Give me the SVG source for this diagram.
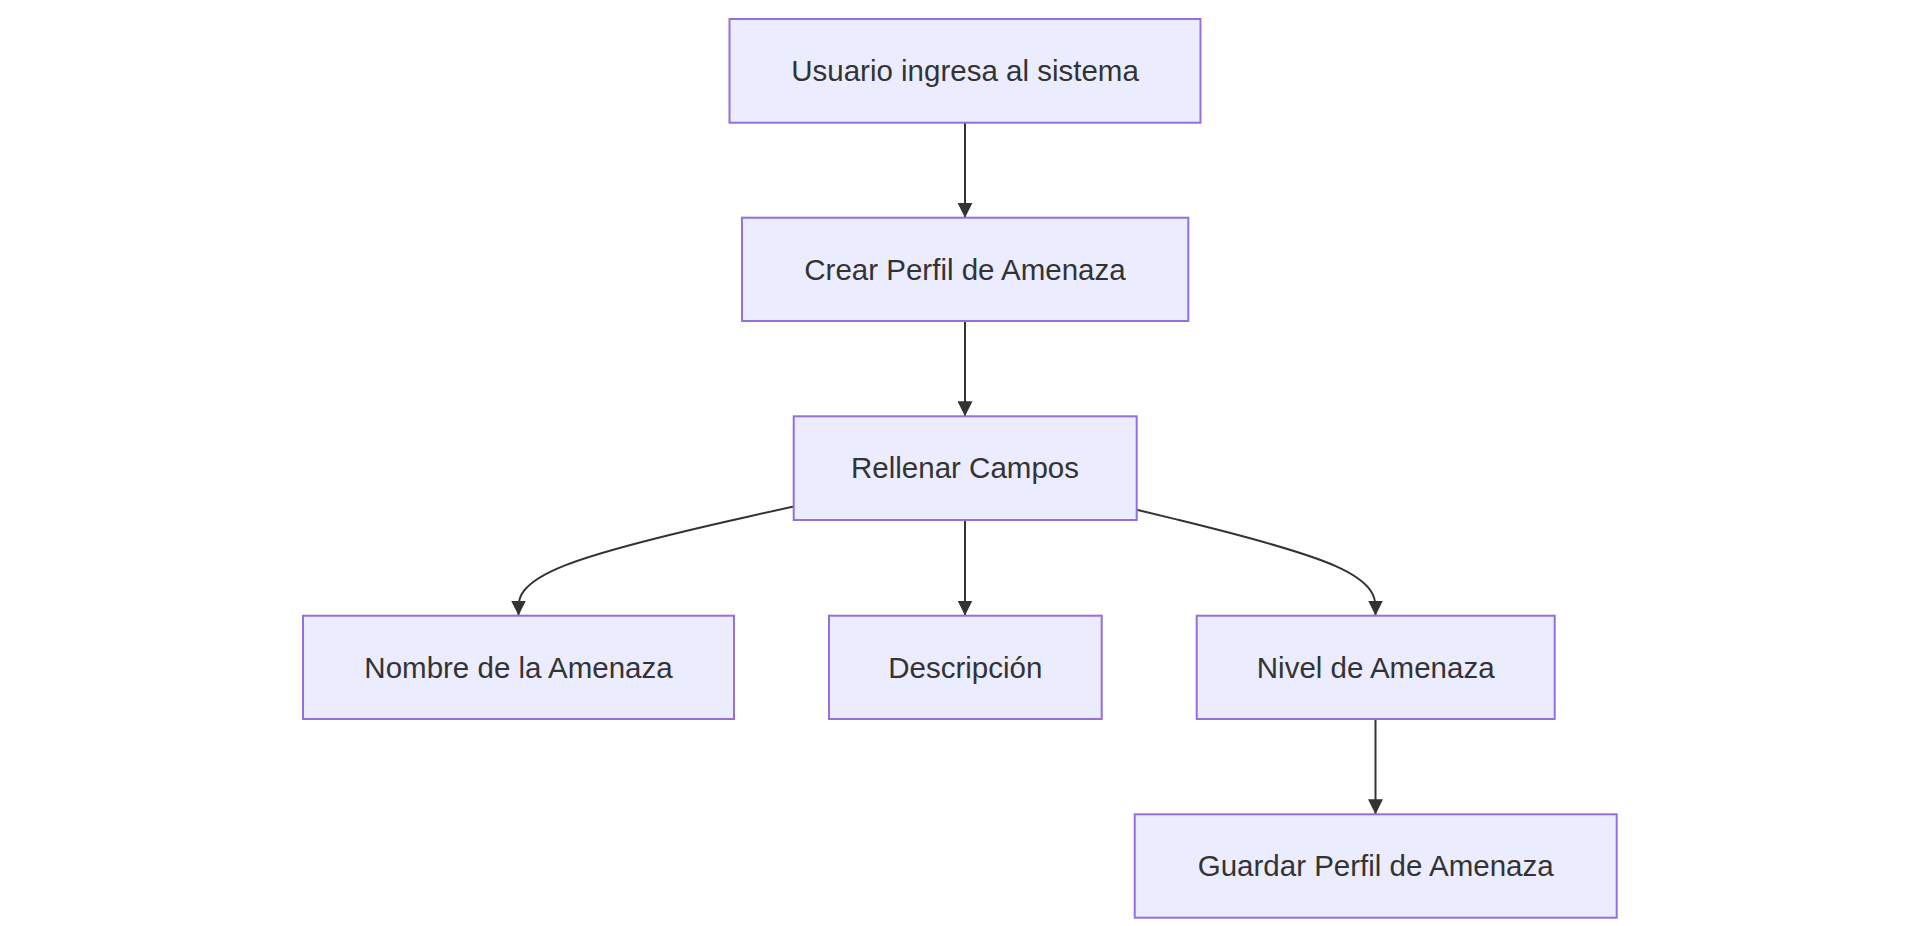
<svg xmlns="http://www.w3.org/2000/svg" width="1909" height="926" viewBox="0 0 1909 926">
<style>
.node rect{fill:#ECECFF;stroke:#9370DB;stroke-width:2}
.node text{font-family:"Liberation Sans",Arial,sans-serif;font-size:29.5px;fill:#333333;text-anchor:middle}
.edge{fill:none;stroke:#333333;stroke-width:2}
</style>
<defs>
<marker id="arrow" viewBox="0 0 10 10" refX="10" refY="5" markerUnits="userSpaceOnUse" markerWidth="15" markerHeight="15" orient="auto">
<path d="M0,0 L10,5 L0,10 z" fill="#333333"/>
</marker>
</defs>
<rect width="1909" height="926" fill="#ffffff"/>
<g id="connectors">
<path class="edge" d="M965,122.7 L965,217.7" marker-end="url(#arrow)"/>
<path class="edge" d="M965,321 L965,416.3" marker-end="url(#arrow)"/>
<path class="edge" d="M965,520 L965,615.5" marker-end="url(#arrow)"/>
<path class="edge" d="M793.7,506.5 L747.8,516.7 C702,526.9 610.2,547.4 564.4,565.6 C518.5,583.8 518.5,599.7 518.5,607.7 L518.5,615.5" marker-end="url(#arrow)"/>
<path class="edge" d="M1136.7,509.7 L1176.5,519.4 C1216.3,529.1 1295.9,548.4 1335.7,566.1 C1375.5,583.8 1375.5,599.7 1375.5,607.7 L1375.5,615.5" marker-end="url(#arrow)"/>
<path class="edge" d="M1375.5,719 L1375.5,814.3" marker-end="url(#arrow)"/>
</g>
<g id="n1" class="node"><rect x="729.5" y="19" width="471" height="103.7"/><text x="965" y="81">Usuario ingresa al sistema</text></g>
<g id="n2" class="node"><rect x="742" y="217.7" width="446.3" height="103.3"/><text x="965" y="279.5">Crear Perfil de Amenaza</text></g>
<g id="n3" class="node"><rect x="793.7" y="416.3" width="343" height="103.7"/><text x="965" y="478.3">Rellenar Campos</text></g>
<g id="n4" class="node"><rect x="303" y="615.7" width="431" height="103.3"/><text x="518.5" y="677.5">Nombre de la Amenaza</text></g>
<g id="n5" class="node"><rect x="829" y="615.7" width="272.7" height="103.3"/><text x="965.3" y="677.5">Descripción</text></g>
<g id="n6" class="node"><rect x="1196.7" y="615.7" width="358" height="103.3"/><text x="1375.7" y="677.5">Nivel de Amenaza</text></g>
<g id="n7" class="node"><rect x="1134.7" y="814.3" width="482" height="103.4"/><text x="1375.7" y="876">Guardar Perfil de Amenaza</text></g>
</svg>
